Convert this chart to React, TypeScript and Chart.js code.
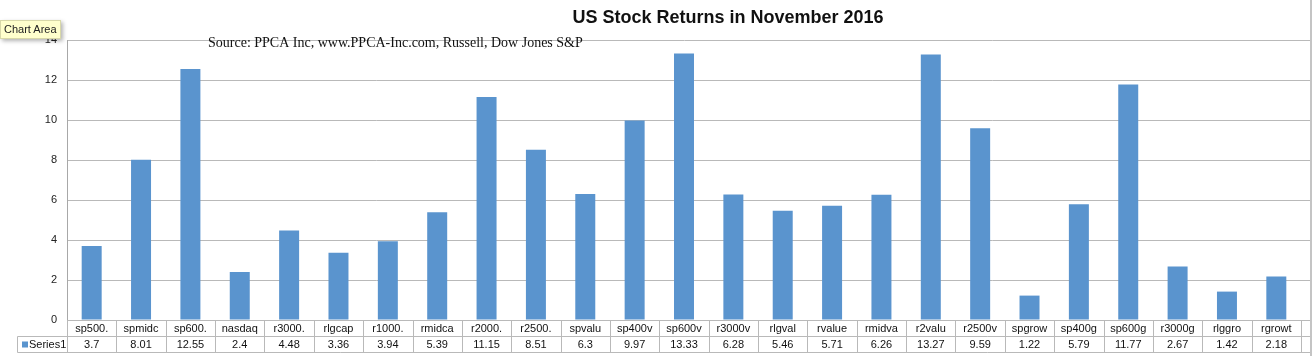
import React, { useEffect, useRef } from "react";
import { Chart, registerables } from "chart.js";

Chart.register(...registerables);

const categories = [
  "sp500.", "spmidc", "sp600.", "nasdaq", "r3000.", "rlgcap", "r1000.", "rmidca", "r2000.",
  "r2500.", "spvalu", "sp400v", "sp600v", "r3000v", "rlgval", "rvalue", "rmidva", "r2valu",
  "r2500v", "spgrow", "sp400g", "sp600g", "r3000g", "rlggro", "rgrowt",
];
const series1 = [
  3.7, 8.01, 12.55, 2.4, 4.48, 3.36, 3.94, 5.39, 11.15, 8.51, 6.3, 9.97, 13.33, 6.28, 5.46,
  5.71, 6.26, 13.27, 9.59, 1.22, 5.79, 11.77, 2.67, 1.42, 2.18,
];
const seriesName = "Series1";
const title = "US Stock Returns in November 2016";
const sourceNote = "Source: PPCA Inc, www.PPCA-Inc.com, Russell, Dow Jones S&P";

const BAR = "#5A94CE";
const GRID = "#b9b9b9";
const FONT = "'Liberation Sans', Arial, sans-serif";

export default function App() {
  const ref = useRef<HTMLCanvasElement | null>(null);
  useEffect(() => {
    document.body.style.margin = "0";
    const canvas = ref.current!;
    const tablePlugin = {
      id: "tablePlugin",
      afterDatasetsDraw(chart: any) {
        const ctx = chart.ctx as CanvasRenderingContext2D;
        const a = chart.chartArea;
        const xs = chart.scales.x;
        const ys = chart.scales.y;
        const n = categories.length;
        const w = (a.right - a.left) / n;
        const rightEdge = 1310.5;
        ctx.save();
        ctx.strokeStyle = GRID;
        ctx.lineWidth = 1;
        // extend gridlines to the right border
        ys.ticks.forEach((t: any) => {
          const y = Math.round(ys.getPixelForValue(t.value)) + 0.5;
          ctx.beginPath();
          ctx.moveTo(a.right, y);
          ctx.lineTo(rightEdge, y);
          ctx.stroke();
        });
        const r0 = Math.round(a.bottom) + 0.5;
        const r1 = r0 + 16;
        const r2 = r1 + 16;
        // horizontal table lines
        ctx.beginPath();
        ctx.moveTo(a.left, r0);
        ctx.lineTo(rightEdge, r0);
        ctx.moveTo(17.5, r1);
        ctx.lineTo(rightEdge, r1);
        ctx.moveTo(17.5, r2);
        ctx.lineTo(rightEdge, r2);
        // vertical table lines
        ctx.moveTo(17.5, r1);
        ctx.lineTo(17.5, r2);
        for (let k = 0; k <= n; k++) {
          const x = Math.round(a.left + k * w) + 0.5;
          ctx.moveTo(x, r0);
          ctx.lineTo(x, r2);
        }
        ctx.stroke();
        // right chart border
        ctx.strokeStyle = "#c4c4c4";
        ctx.lineWidth = 2;
        ctx.beginPath();
        ctx.moveTo(1311, 0);
        ctx.lineTo(1311, 356);
        ctx.stroke();
        // texts
        ctx.fillStyle = "#111";
        ctx.font = `11px ${FONT}`;
        ctx.textAlign = "center";
        ctx.textBaseline = "middle";
        categories.forEach((c, i) => {
          const cx = xs.getPixelForValue(i);
          ctx.fillText(c, cx, r0 + 8.5);
          ctx.fillText(String(series1[i]), cx, r1 + 8.5);
        });
        // legend key
        ctx.fillStyle = BAR;
        ctx.fillRect(22, r1 + 5, 6, 6);
        ctx.fillStyle = "#111";
        ctx.textAlign = "left";
        ctx.fillText(seriesName, 29, r1 + 8.5);
        // title & source
        ctx.textAlign = "center";
        ctx.textBaseline = "alphabetic";
        ctx.font = `bold 18px ${FONT}`;
        ctx.fillText(title, 728, 23);
        ctx.textAlign = "left";
        ctx.font = `14px 'Liberation Serif', 'Times New Roman', serif`;
        ctx.fillText(sourceNote, 208, 47);
        ctx.restore();
      },
    };
    const chart = new Chart(canvas, {
      type: "bar",
      data: {
        labels: categories,
        datasets: [
          {
            label: seriesName,
            data: series1,
            backgroundColor: BAR,
            borderWidth: 0,
            barPercentage: 0.405,
            categoryPercentage: 1,
          },
        ],
      },
      options: {
        responsive: false,
        maintainAspectRatio: false,
        animation: false,
        layout: { padding: { left: 17, right: 14, top: 40, bottom: 36 } },
        plugins: { legend: { display: false }, title: { display: false }, tooltip: { enabled: false } },
        scales: {
          x: { display: false },
          y: {
            min: 0,
            max: 14,
            afterFit: (s: any) => {
              s.width = 50;
            },
            ticks: {
              stepSize: 2,
              padding: 10,
              color: "#222",
              font: { family: FONT, size: 11 },
            },
            grid: { color: GRID, drawTicks: false },
            border: { display: true, color: "#a8a8a8" },
          },
        },
      },
      plugins: [tablePlugin],
    });
    return () => chart.destroy();
  }, []);
  return (
    <div style={{ position: "fixed", left: 0, top: 0, width: 1315, height: 356, background: "#fff" }}>
      <canvas ref={ref} width={1315} height={356} style={{ display: "block" }} />
      <div
        style={{
          position: "absolute",
          left: 0,
          top: 20,
          padding: "2px 3px",
          background: "#ffffcc",
          border: "1px solid #d8d8a8",
          boxShadow: "2px 2px 4px rgba(0,0,0,0.3)",
          font: `11px ${FONT}`,
          color: "#222",
          lineHeight: "13px",
        }}
      >
        Chart Area
      </div>
    </div>
  );
}
